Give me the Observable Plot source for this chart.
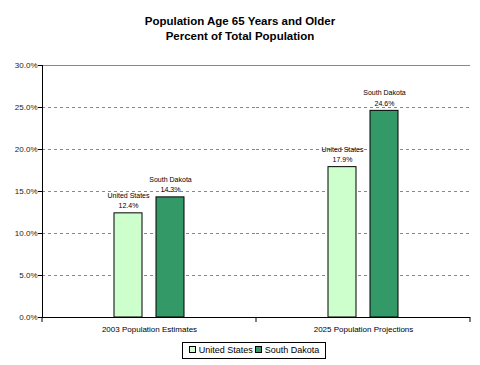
<!DOCTYPE html>
<html><head><meta charset="utf-8">
<script src="https://cdn.jsdelivr.net/npm/d3@7"></script>
<script src="https://cdn.jsdelivr.net/npm/@observablehq/plot@0.6"></script>
<style>
body{margin:0;background:#fff;font-family:"Liberation Sans",Arial,sans-serif;}
#wrap{width:480px;height:365px;position:relative;overflow:hidden;}
#title{position:absolute;left:0;top:14px;width:480px;text-align:center;font-weight:bold;font-size:11.5px;line-height:15px;color:#000;}
#chart{position:absolute;left:0;top:50px;}
#legend{position:absolute;left:182px;top:342px;width:142px;height:15px;border:1px solid #000;font-size:9px;line-height:15px;text-align:center;white-space:nowrap;}
#legend .it{margin:0 1px;}
.sw{display:inline-block;width:5px;height:5px;border:1px solid #000;margin-right:3px;vertical-align:0px;}
</style></head><body>
<div id="wrap">
<div id="title">Population Age 65 Years and Older<br>Percent of Total Population</div>
<div id="chart"></div>
<div id="legend"></div>
</div>
<script>
const categories = ["2003 Population Estimates", "2025 Population Projections"];
const series = ["United States", "South Dakota"];
const usValues = [12.4, 17.9];
const sdValues = [14.3, 24.6];
const yTicks = [0, 5, 10, 15, 20, 25, 30];
const colors = ["#CCFFCC", "#339966"];

const data = [];
categories.forEach((c, i) => {
  data.push({cat: c, series: series[0], value: usValues[i]});
  data.push({cat: c, series: series[1], value: sdValues[i]});
});

const plot = Plot.plot({
  width: 480, height: 287,
  marginLeft: 41, marginRight: 10, marginTop: 15, marginBottom: 20,
  style: {fontFamily: '"Liberation Sans", Arial, sans-serif', background: "#fff", color: "#000"},
  fx: {domain: categories, padding: 0, label: null, axis: null},
  x: {domain: series, paddingInner: 0.326, paddingOuter: 1.657, axis: null},
  y: {domain: [0, 30], label: null},
  color: {domain: series, range: colors},
  marks: [
    Plot.gridY(yTicks.slice(1, -1), {stroke: "#888", strokeOpacity: 1, strokeDasharray: "3,3"}),
    Plot.ruleY([30], {stroke: "#888"}),
    Plot.barY(data, {fx: "cat", x: "series", y: "value", fill: "series", stroke: "#000", strokeWidth: 1}),
    Plot.text(data, {fx: "cat", x: "series", y: "value", text: d => `${d.series}\n${d.value.toFixed(1)}%`, lineAnchor: "bottom", dy: -5, fontSize: 7, lineHeight: 1.5, fill: "#000"}),
    Plot.ruleY([0], {stroke: "#000"}),
    Plot.axisY(yTicks, {tickFormat: d => d.toFixed(1) + "%", tickSize: 4, tickPadding: 1, fontSize: 8, fill: "#222", label: null}),
    Plot.axisFx({anchor: "bottom", tickSize: 0, tickPadding: 9, fontSize: 8, label: null})
  ]
});
document.getElementById("chart").appendChild(plot);

// axis line and category boundary ticks from library scales
const fx = plot.scale("fx"), y = plot.scale("y");
const svg = d3.select(plot);
const left = fx.apply(categories[0]);
const edges = categories.map(c => fx.apply(c)).concat([fx.apply(categories[categories.length - 1]) + fx.bandwidth]);
const y0 = y.apply(0), y30 = y.apply(30);
svg.append("line").attr("x1", left + 0.5).attr("x2", left + 0.5).attr("y1", y30).attr("y2", y0).attr("stroke", "#000");
edges.forEach(e => svg.append("line").attr("x1", e).attr("x2", e).attr("y1", y0).attr("y2", y0 + 5).attr("stroke", "#000"));

const lg = document.getElementById("legend");
series.forEach((s, i) => {
  const sp = document.createElement("span");
  sp.className = "it";
  sp.innerHTML = `<span class="sw" style="background:${colors[i]}"></span>${s}`;
  lg.appendChild(sp);
});
</script>
</body></html>
